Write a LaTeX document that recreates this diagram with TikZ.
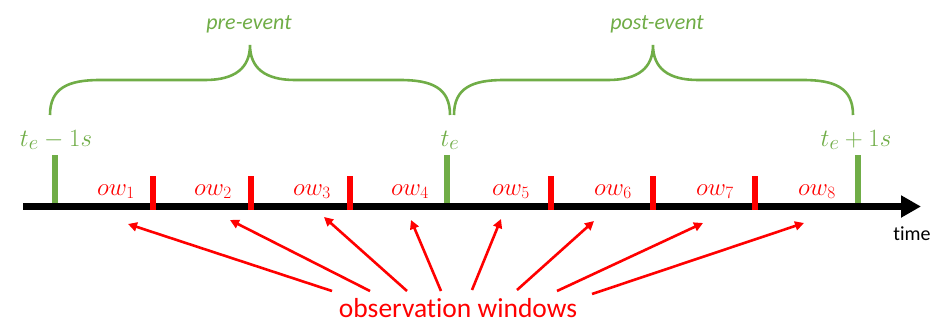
\documentclass[tikz,border=0pt]{standalone}
\usepackage{fontspec}
\newfontfamily\carl{Carlito}[Ligatures=NoCommon]
\usetikzlibrary{arrows.meta}
\definecolor{evgreen}{HTML}{70AD47}
\definecolor{owred}{HTML}{FF0000}
\tikzset{
  gtick/.style={draw=evgreen,line width=6pt},
  rtick/.style={draw=owred,line width=6pt},
  brace/.style={draw=evgreen,line width=2.6pt},
  owlab/.style={text=owred,font=\fontsize{27}{30}\selectfont,anchor=base,inner sep=0pt},
  tlab/.style={text=evgreen,font=\fontsize{28}{31}\selectfont,anchor=base,inner sep=0pt},
  evlab/.style={text=evgreen,font=\carl\itshape\fontsize{22}{26}\selectfont,anchor=base,inner sep=0pt},
  obsarrow/.style={draw=owred,line width=2.6pt,-{Triangle[length=9pt,width=9pt]}},
}
\begin{document}
\begin{tikzpicture}[x=1pt,y=-1pt]
\useasboundingbox (0,0) rectangle (939,324);
% axis
\coordinate (axL) at (23,206.5);
\coordinate (axR) at (921,206.5);
\draw[line width=7pt,-{Triangle[length=20pt,width=21pt]}] (axL) -- (axR);
\node[font=\carl\fontsize{20}{24}\selectfont,anchor=base,inner sep=0pt] (time) at (912,240) {time};
% green ticks
\foreach \n/\x in {g1/55,g2/447,g3/858}{
  \coordinate (\n t) at (\x,155);
  \coordinate (\n b) at (\x,203);
  \draw[gtick] (\n t) -- (\n b);
}
% red ticks
\foreach \n/\x in {r1/153,r2/251,r3/350,r4/551,r5/653,r6/755}{
  \coordinate (\n t) at (\x,176);
  \coordinate (\n b) at (\x,210);
  \draw[rtick] (\n t) -- (\n b);
}
% ow labels
\node[owlab] (ow1) at (116,195) {$ow_1$};
\node[owlab] (ow2) at (213,195) {$ow_2$};
\node[owlab] (ow3) at (312,195) {$ow_3$};
\node[owlab] (ow4) at (410,195) {$ow_4$};
\node[owlab] (ow5) at (511,195) {$ow_5$};
\node[owlab] (ow6) at (613,195) {$ow_6$};
\node[owlab] (ow7) at (715,195) {$ow_7$};
\node[owlab] (ow8) at (817,195) {$ow_8$};
% time labels
\node[tlab] (tm) at (56,146) {$t_e-1s$};
\node[tlab] (t0) at (450,146) {$t_e$};
\node[tlab] (tp) at (856,146) {$t_e+1s$};
% braces
\draw[brace] (50,115) .. controls (50,88) and (68,80) .. (100,80) -- (205,80)
  .. controls (235,80) and (250,68) .. (250,45)
  .. controls (250,68) and (265,80) .. (295,80) -- (400,80)
  .. controls (432,80) and (450,88) .. (450,115);
\draw[brace] (454,115) .. controls (454,88) and (472,80) .. (504,80) -- (608,80)
  .. controls (638,80) and (653,68) .. (653,45)
  .. controls (653,68) and (668,80) .. (698,80) -- (803,80)
  .. controls (835,80) and (853,88) .. (853,115);
\node[evlab] (pre) at (249,29) {pre-event};
\node[evlab] (post) at (657,29) {post-event};
% observation windows
\node[text=owred,font=\carl\fontsize{27.5}{32}\selectfont,anchor=base,inner sep=0pt] (obs) at (458,317) {observation windows};
\foreach \i/\sx/\sy/\ex/\ey in {1/332/291/128/224, 2/370/291/230/220, 3/407/291/324/217, 4/441/291/411/220,
  5/472/290/501/219, 6/517/290/594/221, 7/557/291/703/223, 8/592/294/804/223}{
  \coordinate (s\i) at (\sx,\sy);
  \coordinate (e\i) at (\ex,\ey);
  \draw[obsarrow] (s\i) -- (e\i);
}
\end{tikzpicture}
\end{document}
